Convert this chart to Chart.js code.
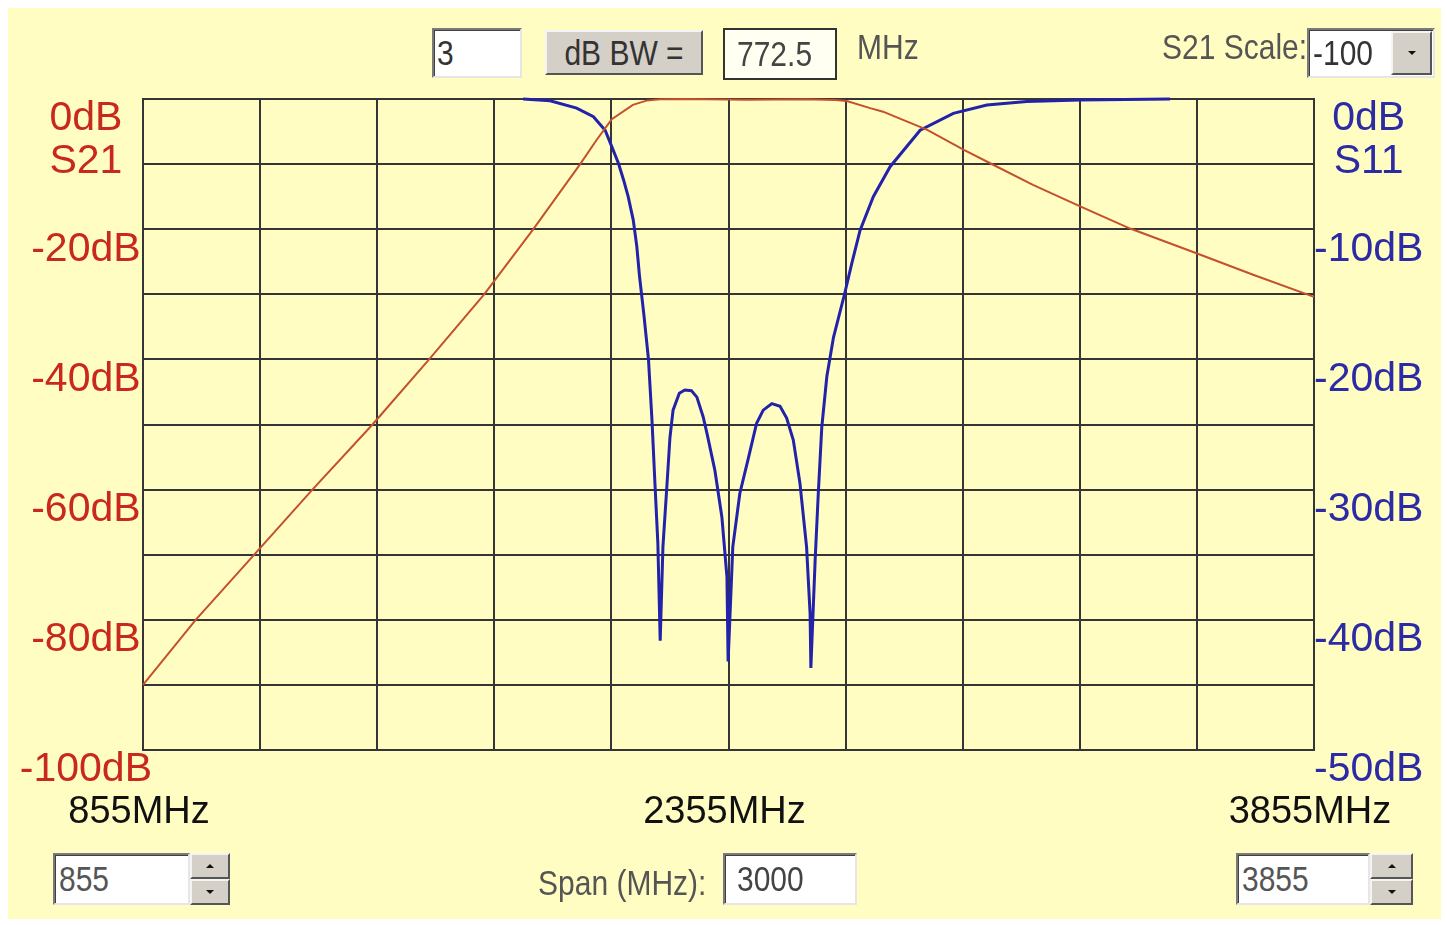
<!DOCTYPE html>
<html>
<head>
<meta charset="utf-8">
<script src="https://cdn.jsdelivr.net/npm/chart.js@4.4.1/dist/chart.umd.min.js"></script>
<style>
html,body{margin:0;padding:0;background:#ffffff;width:1447px;height:925px;overflow:hidden;}
#bg{position:absolute;left:8px;top:8px;width:1433px;height:911px;background:#fffdc2;}
#c{position:absolute;left:0;top:0;}
.ctl{position:absolute;box-sizing:border-box;font-family:"Liberation Sans",Arial,sans-serif;font-size:30px;color:#444;display:flex;align-items:center;white-space:nowrap;}
.ctl span{display:inline-block;transform:scaleY(1.15);}
.inp{background:#ffffff;border-top:2px solid #7a7a7a;border-left:2px solid #7a7a7a;border-bottom:2px solid #e6e6e6;border-right:2px solid #e6e6e6;box-shadow:inset 1px 1px 0 #404040;}
.btn{background:#d4d0c8;border-top:2px solid #f4f4f4;border-left:2px solid #f4f4f4;border-bottom:2px solid #555;border-right:2px solid #555;justify-content:center;color:#333;}
.lbl{color:#555;}
.tri-up{width:0;height:0;border-left:4px solid transparent;border-right:4px solid transparent;border-bottom:4px solid #111;}
.tri-dn{width:0;height:0;border-left:4px solid transparent;border-right:4px solid transparent;border-top:4px solid #111;}
</style>
</head>
<body>
<div id="bg"></div>
<canvas id="c" width="1447" height="925"></canvas>

<!-- top controls -->
<div class="ctl inp" style="left:432px;top:28px;width:90px;height:50px;padding-left:3px;color:#333;"><span>3</span></div>
<div class="ctl btn" style="left:545px;top:30px;width:158px;height:45px;"><span>dB BW =</span></div>
<div class="ctl" style="left:723px;top:28px;width:114px;height:52px;border:2px solid #333;background:#fffff2;padding-left:12px;"><span>772.5</span></div>
<div class="ctl lbl" style="left:857px;top:26px;height:42px;"><span>MHz</span></div>
<div class="ctl lbl" style="left:1162px;top:26px;height:42px;"><span>S21 Scale:</span></div>
<div class="ctl inp" style="left:1307px;top:28px;width:128px;height:50px;padding-left:4px;color:#333;"><span>-100</span></div>
<div class="ctl btn" style="left:1391px;top:31px;width:41px;height:44px;"><div class="tri-dn"></div></div>

<!-- bottom controls -->
<div class="ctl inp" style="left:53px;top:853px;width:137px;height:52px;padding-left:4px;color:#555;"><span>855</span></div>
<div class="ctl btn" style="left:190px;top:853px;width:40px;height:26px;"><div class="tri-up"></div></div>
<div class="ctl btn" style="left:190px;top:879px;width:40px;height:26px;"><div class="tri-dn"></div></div>
<div class="ctl lbl" style="left:538px;top:862px;height:42px;"><span>Span (MHz):</span></div>
<div class="ctl inp" style="left:723px;top:853px;width:134px;height:52px;padding-left:12px;color:#444;"><span>3000</span></div>
<div class="ctl inp" style="left:1236px;top:853px;width:134px;height:52px;padding-left:4px;color:#555;"><span>3855</span></div>
<div class="ctl btn" style="left:1370px;top:853px;width:43px;height:26px;"><div class="tri-up"></div></div>
<div class="ctl btn" style="left:1370px;top:879px;width:43px;height:26px;"><div class="tri-dn"></div></div>

<script>
// ---- data ----
const s21Name = 'S21';
const s11Name = 'S11';

const s21Freq = [855, 990, 1140, 1289, 1443, 1588, 1729, 1855, 1975, 2017, 2056, 2110, 2145, 2180, 2250, 2400, 2550, 2630, 2658, 2718, 2751, 2802, 2863, 2958, 3033, 3135, 3256, 3384, 3559, 3699, 3855];
const s21Db   = [-90, -80, -70, -60, -50, -40, -30, -20, -10, -6.3, -3.1, -0.9, -0.25, -0.05, 0, -0.1, -0.05, -0.15, -0.3, -1.4, -1.95, -3.2, -4.7, -7.8, -10.1, -13.2, -16.5, -19.9, -23.8, -27.0, -30.4];

const s11Freq = [1829, 1898, 1966, 2009, 2039, 2056, 2073, 2086, 2098, 2111, 2120, 2127, 2138, 2150, 2159, 2167, 2174, 2180, 2187, 2197, 2205, 2213, 2229, 2243, 2260, 2274, 2290, 2300, 2320, 2338, 2351, 2354, 2366, 2384, 2405, 2427, 2444, 2466, 2487, 2504, 2521, 2538, 2555, 2564, 2566, 2577, 2585, 2594, 2607, 2615, 2624, 2653, 2671, 2692, 2726, 2769, 2846, 2931, 3017, 3119, 3256, 3486];
const s11Db   = [0, -0.13, -0.7, -1.36, -2.4, -3.66, -4.94, -6.2, -7.5, -9.3, -11.3, -13.6, -16.5, -20.0, -24.7, -29.8, -34.1, -41.6, -34.4, -29.8, -26.0, -23.9, -22.6, -22.35, -22.4, -22.9, -24.4, -25.7, -28.5, -32.1, -36.7, -43.2, -34.4, -30.3, -27.7, -24.9, -23.9, -23.4, -23.6, -24.5, -26.2, -29.5, -34.4, -39.5, -43.7, -35.4, -30.3, -25.2, -21.3, -19.9, -18.3, -14.9, -12.6, -10.1, -7.5, -5.2, -2.4, -1.1, -0.46, -0.2, -0.08, 0];

const xLabelFreqs  = [855, 2355, 3855];
const xTickLabels  = ['855MHz', '2355MHz', '3855MHz'];
const s21TickVals  = [0, -20, -40, -60, -80, -100];
const s21TickLabels = ['0dB', '-20dB', '-40dB', '-60dB', '-80dB', '-100dB'];
const s11TickVals  = [0, -10, -20, -30, -40, -50];
const s11TickLabels = ['0dB', '-10dB', '-20dB', '-30dB', '-40dB', '-50dB'];

// ---- chart ----
const FONT = '"Liberation Sans", Arial, sans-serif';
const GRID = '#353535';

function yLabel(vals, labels, name) {
  return function (v) {
    const i = vals.indexOf(Math.round(v));
    if (i < 0) return '';
    if (vals[i] === 0) return ['', labels[i], name];
    return labels[i];
  };
}
// let long tick labels (e.g. "-100dB") overflow the axis box instead of being clipped
function noLabelClip(s) { s._computeLabelArea = function () { return undefined; }; }

new Chart(document.getElementById('c'), {
  type: 'line',
  data: {
    datasets: [
      {
        label: s21Name,
        data: s21Freq.map((f, i) => ({x: f, y: s21Db[i]})),
        yAxisID: 'y',
        borderColor: '#c4502c',
        borderWidth: 2,
        pointRadius: 0,
        tension: 0,
        clip: 4
      },
      {
        label: s11Name,
        data: s11Freq.map((f, i) => ({x: f, y: s11Db[i]})),
        yAxisID: 'y2',
        borderColor: '#2222aa',
        borderWidth: 3,
        pointRadius: 0,
        tension: 0,
        clip: 4
      }
    ]
  },
  options: {
    responsive: false,
    animation: false,
    events: [],
    layout: {padding: {left: 8, right: 8, top: 99, bottom: 75}},
    plugins: {legend: {display: false}, tooltip: {enabled: false}},
    scales: {
      x: {
        type: 'linear',
        position: 'bottom',
        min: 855, max: 3855,
        ticks: {
          stepSize: 300,
          autoSkip: false,
          maxRotation: 0,
          padding: 40,
          labelOffset: -4,
          color: '#111',
          font: {family: FONT, size: 38},
          callback: (v) => {
            const i = xLabelFreqs.indexOf(Math.round(v));
            return i < 0 ? '' : xTickLabels[i];
          }
        },
        grid: {color: GRID, lineWidth: 2, drawTicks: false},
        border: {display: true, color: GRID, width: 2},
        afterFit: (s) => { s.height = 100; noLabelClip(s); }
      },
      y: {
        type: 'linear',
        position: 'left',
        min: -100, max: 0,
        ticks: {
          stepSize: 10,
          autoSkip: false,
          crossAlign: 'center',
          padding: -9,
          labelOffset: 20,
          color: '#c8281e',
          font: {family: FONT, size: 41, lineHeight: 1.04},
          callback: yLabel(s21TickVals, s21TickLabels, s21Name)
        },
        grid: {color: GRID, lineWidth: 2, drawTicks: false},
        border: {display: true, color: GRID, width: 2},
        afterFit: (s) => { s.width = 135; noLabelClip(s); }
      },
      y2: {
        type: 'linear',
        position: 'right',
        min: -50, max: 0,
        ticks: {
          stepSize: 5,
          autoSkip: false,
          crossAlign: 'center',
          padding: 0,
          labelOffset: 20,
          color: '#2b2ba5',
          font: {family: FONT, size: 41, lineHeight: 1.04},
          callback: yLabel(s11TickVals, s11TickLabels, s11Name)
        },
        grid: {display: false, drawTicks: false},
        border: {display: true, color: GRID, width: 2},
        afterFit: (s) => { s.width = 125; noLabelClip(s); }
      }
    }
  }
});
</script>
</body>
</html>
